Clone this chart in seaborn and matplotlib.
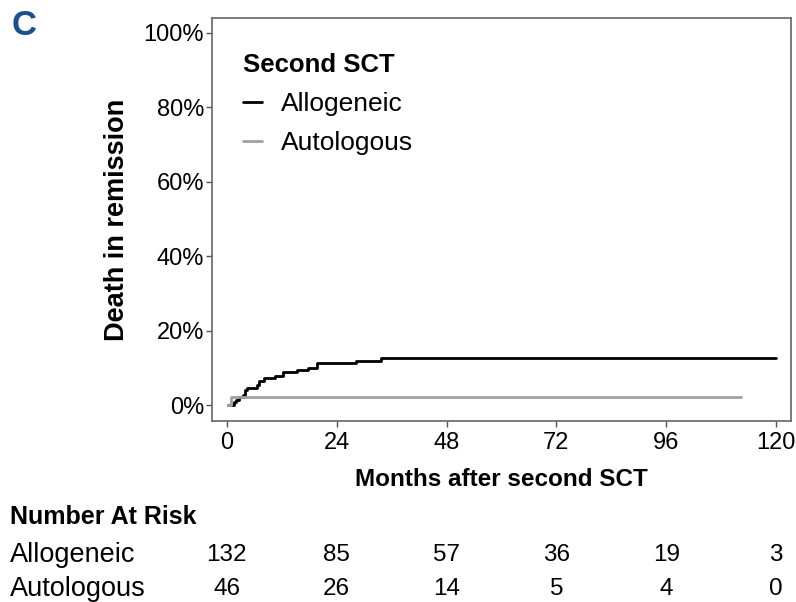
import matplotlib
matplotlib.use("Agg")
import matplotlib.pyplot as plt
import matplotlib.transforms as mtransforms
import seaborn as sns
import pandas as pd

# cumulative incidence of death in remission (%)
allo_t = [0.3, 1.3, 1.6, 2.1, 2.7, 3.6, 4.0, 4.5, 6.5, 7.1, 8.2, 10.6, 12.3, 15.3, 17.8, 19.7, 28.2, 33.6, 120.0]
allo_p = [0.0, 0.0, 0.8, 1.5, 2.3, 2.7, 4.0, 4.7, 5.4, 6.4, 7.2, 7.8, 8.8, 9.4, 10.1, 11.2, 11.9, 12.7, 12.7]
auto_t = [0.3, 0.9, 112.3]
auto_p = [0.0, 2.2, 2.2]

groups = ["Allogeneic", "Autologous"]
risk_times = [0, 24, 48, 72, 96, 120]
risk_allo = [132, 85, 57, 36, 19, 3]
risk_auto = [46, 26, 14, 5, 4, 0]

df = pd.concat([
    pd.DataFrame({"t": allo_t, "p": allo_p, "group": groups[0]}),
    pd.DataFrame({"t": auto_t, "p": auto_p, "group": groups[1]}),
])

sns.set_style("white")
plt.rcParams["font.family"] = ["Liberation Sans", "DejaVu Sans"]
plt.rcParams["text.color"] = "black"
plt.rcParams["axes.labelcolor"] = "black"
plt.rcParams["xtick.color"] = "black"
plt.rcParams["ytick.color"] = "black"

fig = plt.figure(figsize=(7.96, 6.02), dpi=100)
ax = fig.add_axes([0.266, 0.301, 0.728, 0.669])

sns.lineplot(data=df, x="t", y="p", hue="group", hue_order=groups,
             palette={"Allogeneic": "black", "Autologous": "#a0a0a0"},
             drawstyle="steps-post", estimator=None, sort=False,
             linewidth=2.0, ax=ax)

ax.set_xlim(-3.3, 123.3)
ax.set_ylim(-4.2, 103.9)
ax.set_xticks(risk_times)
ax.set_yticks([0, 20, 40, 60, 80, 100])
ax.set_yticklabels([f"{v}%" for v in [0, 20, 40, 60, 80, 100]])
ax.tick_params(axis="both", labelsize=17, length=4.5, width=1, color="#555555",
               direction="out", bottom=True, left=True)
ax.tick_params(axis="y", pad=1)
ax.tick_params(axis="x", pad=3.5)
for s in ax.spines.values():
    s.set_color("#666666")
    s.set_linewidth(1.2)

ax.set_xlabel("Months after second SCT", fontsize=17.5, fontweight="bold", labelpad=10)
ax.set_ylabel("Death in remission", fontsize=19.5, fontweight="bold", labelpad=10)

leg = ax.legend(title="Second SCT", loc="upper left", frameon=False,
                fontsize=19, title_fontproperties={"weight": "bold", "size": 18.5},
                handlelength=0.75, handletextpad=0.7, labelspacing=0.57,
                borderpad=0.6, borderaxespad=0, bbox_to_anchor=(0.026, 0.952))
leg._legend_box.align = "left"
for h in leg.get_lines():
    h.set_linewidth(2.0)

fig.text(0.014, 0.958, "C", fontsize=25, fontweight="bold", color="#1f4e8c",
         va="center", ha="left")

# number at risk table
trans = mtransforms.blended_transform_factory(ax.transData, fig.transFigure)
fig.text(0.013, 0.141, "Number At Risk", fontsize=18, fontweight="bold", va="center")
fig.text(0.013, 0.078, groups[0], fontsize=19.5, va="center")
fig.text(0.013, 0.022, groups[1], fontsize=19.5, va="center")
for t, a, b in zip(risk_times, risk_allo, risk_auto):
    ax.text(t, 0.078, str(a), transform=trans, fontsize=17.5, ha="center", va="center")
    ax.text(t, 0.022, str(b), transform=trans, fontsize=17.5, ha="center", va="center")

fig.savefig("out.png", dpi=100)
